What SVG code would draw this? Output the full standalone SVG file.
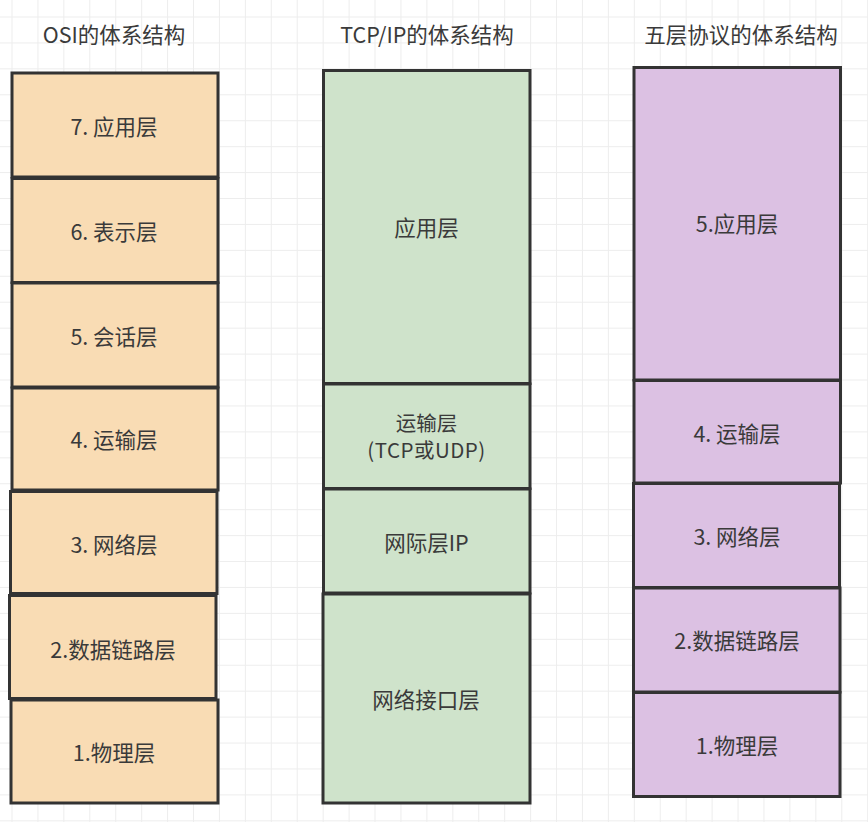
<svg xmlns="http://www.w3.org/2000/svg" width="868" height="822" viewBox="0 0 868 822">
<defs>
<pattern id="grid" patternUnits="userSpaceOnUse" x="11.5" y="16.5" width="25.93" height="25.93">
<path d="M0 0.5H25.93M0.5 0V25.93" fill="none" stroke="#ededed" stroke-width="1"/>
</pattern>
<style>
.t{font-family:"Noto Sans CJK SC","Noto Sans",sans-serif;font-size:21.5px;fill:#3a3a3a;text-anchor:middle}
.s{font-size:20.5px}
.b{stroke:#333;stroke-width:3}
.o{fill:#f9dcb4}
.g{fill:#cfe3cb}
.p{fill:#dcc1e3}
</style>
</defs>
<rect width="868" height="822" fill="#ffffff"/>
<rect width="868" height="822" fill="url(#grid)"/>

<g id="titles">
<text class="t" x="114" y="43">OSI的体系结构</text>
<text class="t" x="427" y="43">TCP/IP的体系结构</text>
<text class="t" x="741" y="43">五层协议的体系结构</text>
</g>

<g id="osi">
<g id="osi7"><rect class="b o" x="12" y="73" width="206" height="104"/><text class="t" x="114" y="135">7. 应用层</text></g>
<g id="osi6"><rect class="b o" x="12" y="178.5" width="206" height="104"/><text class="t" x="114" y="239.5">6. 表示层</text></g>
<g id="osi5"><rect class="b o" x="12" y="283" width="206" height="104"/><text class="t" x="114" y="344.5">5. 会话层</text></g>
<g id="osi4"><rect class="b o" x="12" y="388" width="206" height="102"/><text class="t" x="114" y="448">4. 运输层</text></g>
<g id="osi3"><rect class="b o" x="10.5" y="491.5" width="206.5" height="102"/><text class="t" x="114" y="553">3. 网络层</text></g>
<g id="osi2"><rect class="b o" x="9.5" y="595.5" width="206.5" height="103"/><text class="t" x="113" y="658">2.数据链路层</text></g>
<g id="osi1"><rect class="b o" x="11" y="700" width="207" height="103"/><text class="t" x="114" y="761">1.物理层</text></g>
</g>

<g id="tcpip">
<g id="tcp4"><rect class="b g" x="323.5" y="70.5" width="206.5" height="313"/><text class="t" x="426.5" y="236">应用层</text></g>
<g id="tcp3"><rect class="b g" x="323.5" y="384" width="206.5" height="104.5"/><text class="t s" x="426.5" y="431">运输层</text><text class="t s" x="426.5" y="458" letter-spacing="0.5">(TCP或UDP)</text></g>
<g id="tcp2"><rect class="b g" x="323.5" y="489" width="206.5" height="104"/><text class="t" x="426.5" y="551">网际层IP</text></g>
<g id="tcp1"><rect class="b g" x="323" y="594" width="207" height="209"/><text class="t" x="426" y="708">网络接口层</text></g>
</g>

<g id="five">
<g id="five5"><rect class="b p" x="634" y="67.5" width="206.5" height="312.5"/><text class="t" x="737" y="232">5.应用层</text></g>
<g id="five4"><rect class="b p" x="634" y="380.5" width="206.5" height="102.5"/><text class="t" x="737" y="442">4. 运输层</text></g>
<g id="five3"><rect class="b p" x="633.5" y="483.5" width="206" height="104"/><text class="t" x="737" y="545">3. 网络层</text></g>
<g id="five2"><rect class="b p" x="633.5" y="588" width="206.5" height="104"/><text class="t" x="737" y="649">2.数据链路层</text></g>
<g id="five1"><rect class="b p" x="633.5" y="692.5" width="206.5" height="104"/><text class="t" x="737" y="754">1.物理层</text></g>
</g>
</svg>
